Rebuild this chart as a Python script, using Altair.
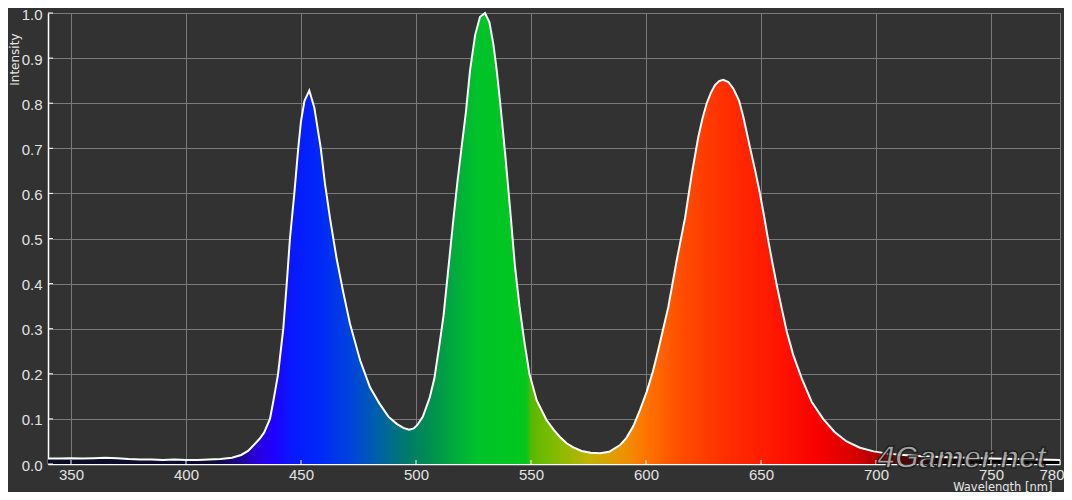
import altair as alt
import pandas as pd

# ---- data ----
wavelength = [340, 345, 350, 355, 360, 365, 370, 375, 380, 385, 390, 395, 400, 405, 410, 415, 420,
              424, 427, 430, 432, 434, 436.5, 438, 440, 442.3, 443.8, 445.2, 447.1, 448.8, 450,
              451.5, 453.6, 455.8, 458.6, 460.4, 462.6, 465.5, 468.4, 471.3, 475.7, 480, 484, 488,
              491.6, 494.5, 497, 499, 500.5, 503, 506, 508, 510.4, 512, 514, 516, 518, 520, 521.7,
              523.5, 525.7, 527.8, 530, 531.9, 533.6, 535.1, 536.5, 537.5, 539, 541, 543, 545, 547,
              549.3, 552.5, 556.8, 560, 562.6, 565.5, 568.4, 572, 576, 580, 584, 588.7, 591.5,
              594.5, 597.4, 600.3, 603, 605.3, 607.5, 609.7, 613.3, 617, 619.9, 622.7, 624.5, 626.4,
              628.2, 630, 631.8, 633.6, 635.8, 638, 640.5, 642.3, 645.2, 647.5, 649.6, 651.5, 653.2,
              655, 656.8, 659, 661.2, 664, 667.7, 672, 677, 682, 687.2, 693, 699, 705, 712, 720,
              730, 740, 750, 760, 770, 780]
intensity = [0.012, 0.012, 0.013, 0.012, 0.013, 0.014, 0.013, 0.011, 0.010, 0.010, 0.009, 0.010,
             0.009, 0.009, 0.010, 0.011, 0.014,
             0.020, 0.029, 0.045, 0.056, 0.070, 0.100, 0.140, 0.198, 0.300, 0.400, 0.500, 0.600,
             0.700, 0.760, 0.805, 0.828, 0.790, 0.700, 0.622, 0.545, 0.455, 0.380, 0.311, 0.230,
             0.170, 0.135, 0.105, 0.089, 0.080, 0.076, 0.079, 0.086, 0.105, 0.148, 0.190, 0.272,
             0.330, 0.430, 0.530, 0.625, 0.710, 0.780, 0.873, 0.951, 0.991, 1.000, 0.980, 0.932,
             0.873, 0.806, 0.755, 0.675, 0.560, 0.440, 0.350, 0.275, 0.200, 0.141, 0.097, 0.075,
             0.060, 0.046, 0.037, 0.029, 0.025, 0.024, 0.027, 0.042, 0.058, 0.084, 0.120, 0.160,
             0.205, 0.252, 0.300, 0.348, 0.450, 0.546, 0.643, 0.724, 0.765, 0.800, 0.823, 0.840,
             0.849, 0.852, 0.847, 0.832, 0.805, 0.770, 0.702, 0.650, 0.598, 0.545, 0.494, 0.445,
             0.398, 0.345, 0.294, 0.242, 0.190, 0.138, 0.100, 0.071, 0.050, 0.036, 0.028, 0.023,
             0.020, 0.017, 0.015, 0.014, 0.012, 0.011, 0.010, 0.009]

x_ticks = [350, 400, 450, 500, 550, 600, 650, 700, 750, 780]
y_ticks = [0.0, 0.1, 0.2, 0.3, 0.4, 0.5, 0.6, 0.7, 0.8, 0.9, 1.0]

# spectral fill colours (wavelength -> colour)
stop_nm = [340, 412, 422, 430, 438, 446, 458, 470, 480, 488, 496, 504, 514, 526, 548, 550, 560,
           575, 590, 600, 615, 635, 655, 675, 690, 700, 712, 725, 745, 780]
stop_colors = ["#0c0c26", "#0e0c36", "#1a0880", "#2800d8", "#2000ff", "#0818ff", "#0028f8",
               "#0040e0", "#0058b8", "#006a90", "#007a6c", "#008a54", "#00a442", "#00c22a",
               "#00c81c", "#58b800", "#80bc00", "#c0b400", "#ec9400", "#ff7400", "#ff4e00",
               "#ff2e00", "#ff1800", "#f80000", "#d80000", "#b00000", "#600000", "#200000",
               "#080000", "#000000"]

watermark = ["4Gamer.net"]

X_MIN, X_MAX = 340, 780

df = pd.DataFrame({"wl": wavelength, "I": intensity})

x_scale = alt.Scale(domain=[X_MIN, X_MAX], nice=False, zero=False)
y_scale = alt.Scale(domain=[0, 1], nice=False)

gradient = alt.Gradient(
    gradient="linear",
    stops=[alt.GradientStop(color=c, offset=(w - X_MIN) / (X_MAX - X_MIN))
           for w, c in zip(stop_nm, stop_colors)],
    x1=0, x2=1, y1=0, y2=0,
)

x_axis = alt.Axis(
    values=x_ticks, title="Wavelength [nm]", grid=True, gridColor="#7a7a7a", gridWidth=1,
    domainColor="white", domainWidth=1.5, ticks=False, tickSize=0,
    labelFont="Liberation Sans", labelFontSize=15, labelColor="#e2e2e2", labelPadding=3,
    labelFlush=True, labelFlushOffset=4,
    titleFont="DejaVu Sans", titleFontSize=11.5, titleFontWeight="normal", titleColor="#e6e6e6",
    titleX=1004, titleY=26, titleAlign="right", titleBaseline="alphabetic",
)
y_axis = alt.Axis(
    values=y_ticks, format=".1f", title="Intensity", grid=True, gridColor="#7a7a7a", gridWidth=1,
    domainColor="white", domainWidth=1.5, ticks=False, tickSize=0,
    labelFont="Liberation Sans", labelFontSize=15, labelColor="#e2e2e2", labelPadding=6,
    labelOffset=1,
    titleFont="DejaVu Sans", titleFontSize=12, titleFontWeight="normal", titleColor="#e6e6e6",
    titleAngle=270, titleX=-34, titleY=20, titleAlign="right", titleBaseline="middle",
)

area = alt.Chart(df).mark_area(color=gradient, interpolate="linear").encode(
    x=alt.X("wl:Q", scale=x_scale, axis=x_axis),
    y=alt.Y("I:Q", scale=y_scale, axis=y_axis),
)
line = alt.Chart(df).mark_line(color="white", strokeWidth=2, interpolate="linear").encode(
    x=alt.X("wl:Q", scale=x_scale),
    y=alt.Y("I:Q", scale=y_scale),
)
yt = alt.Chart(pd.DataFrame({"I": y_ticks})).mark_rule(color="white", strokeWidth=1).encode(
    y=alt.Y("I:Q", scale=y_scale),
    x=alt.value(0), x2=alt.value(5),
)
xt = alt.Chart(pd.DataFrame({"wl": x_ticks})).mark_rule(color="white", strokeWidth=1).encode(
    x=alt.X("wl:Q", scale=x_scale),
    y=alt.value(447), y2=alt.value(451),
)
wm = alt.Chart(pd.DataFrame({"t": watermark})).mark_text(
    font="Liberation Sans", fontSize=31, fontWeight="bold", fontStyle="italic",
    color="#b0b0b0", stroke="#1e1e1e", strokeWidth=1.5, opacity=0.9,
    align="center", baseline="alphabetic",
).encode(text="t:N", x=alt.value(914), y=alt.value(455))

chart = alt.layer(area, line, yt, xt, wm).properties(
    width=1012, height=451,
    autosize=alt.AutoSizeParams(type="none"),
    padding={"left": 40, "top": 5, "right": 4, "bottom": 28},
    background="#323232",
).configure_view(stroke=None)

chart.save("out.html", embed_options={"renderer": "svg", "actions": False})
